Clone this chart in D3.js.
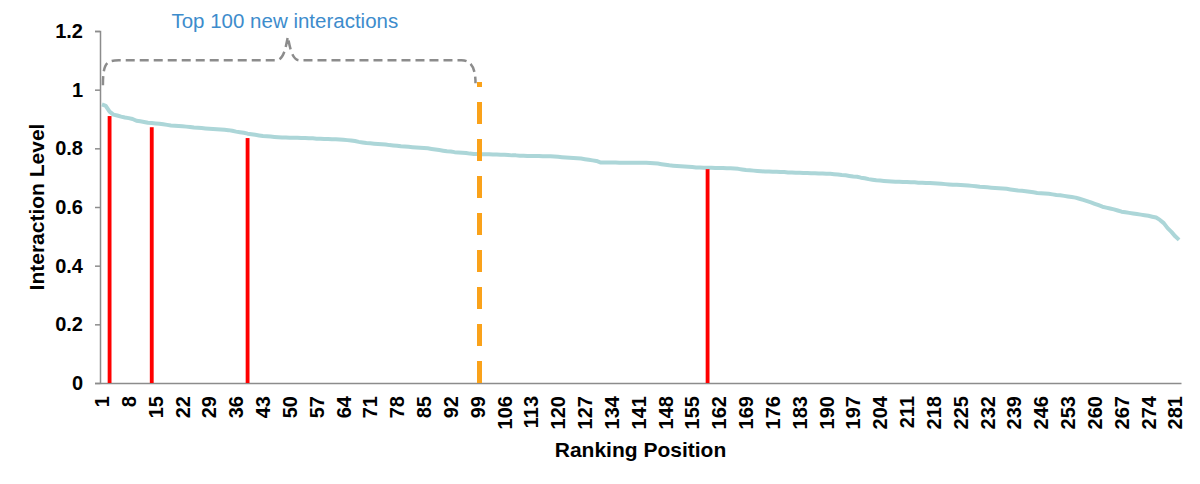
<!DOCTYPE html>
<html>
<head>
<meta charset="utf-8">
<script src="https://cdn.jsdelivr.net/npm/d3@7"></script>
<style>
  body { margin: 0; background: #fff; }
  text { font-family: "Liberation Sans", Arial, sans-serif; }
</style>
</head>
<body>
<div id="chart"></div>
<script>
// Interaction level for each ranking position 1..282
const levels = [
  0.950, 0.945, 0.925, 0.915, 0.912, 0.908, 0.905, 0.903, 0.900, 0.894,
  0.892, 0.890, 0.887, 0.886, 0.885, 0.884, 0.882, 0.880, 0.878, 0.877,
  0.876, 0.875, 0.874, 0.873, 0.871, 0.870, 0.869, 0.868, 0.867, 0.866,
  0.865, 0.864, 0.863, 0.862, 0.860, 0.857, 0.855, 0.853, 0.850, 0.848,
  0.846, 0.844, 0.842, 0.841, 0.840, 0.839, 0.838, 0.837, 0.837, 0.836,
  0.836, 0.836, 0.835, 0.835, 0.834, 0.834, 0.833, 0.833, 0.832, 0.832,
  0.831, 0.831, 0.830, 0.829, 0.828, 0.827, 0.825, 0.822, 0.820, 0.818,
  0.817, 0.816, 0.815, 0.814, 0.813, 0.811, 0.810, 0.809, 0.807, 0.806,
  0.805, 0.804, 0.803, 0.802, 0.801, 0.800, 0.798, 0.796, 0.794, 0.792,
  0.790, 0.789, 0.787, 0.786, 0.785, 0.784, 0.782, 0.781, 0.781, 0.780,
  0.780, 0.780, 0.779, 0.779, 0.778, 0.778, 0.777, 0.776, 0.776, 0.775,
  0.775, 0.774, 0.774, 0.774, 0.774, 0.773, 0.773, 0.773, 0.772, 0.771,
  0.770, 0.769, 0.768, 0.767, 0.766, 0.765, 0.763, 0.761, 0.759, 0.757,
  0.752, 0.752, 0.752, 0.752, 0.752, 0.751, 0.751, 0.751, 0.751, 0.751,
  0.751, 0.751, 0.751, 0.750, 0.749, 0.748, 0.746, 0.744, 0.742, 0.741,
  0.740, 0.739, 0.738, 0.737, 0.736, 0.735, 0.735, 0.734, 0.734, 0.734,
  0.733, 0.733, 0.733, 0.732, 0.732, 0.731, 0.730, 0.728, 0.726, 0.725,
  0.724, 0.723, 0.722, 0.721, 0.721, 0.720, 0.720, 0.719, 0.719, 0.718,
  0.718, 0.717, 0.717, 0.716, 0.716, 0.715, 0.715, 0.714, 0.714, 0.713,
  0.713, 0.712, 0.711, 0.709, 0.708, 0.706, 0.704, 0.703, 0.700, 0.698,
  0.695, 0.693, 0.691, 0.690, 0.689, 0.688, 0.687, 0.686, 0.686, 0.685,
  0.685, 0.684, 0.684, 0.683, 0.683, 0.682, 0.682, 0.681, 0.680, 0.679,
  0.678, 0.677, 0.676, 0.676, 0.675, 0.674, 0.673, 0.672, 0.671, 0.669,
  0.668, 0.667, 0.666, 0.665, 0.664, 0.663, 0.662, 0.660, 0.658, 0.656,
  0.655, 0.654, 0.652, 0.650, 0.648, 0.647, 0.646, 0.645, 0.643, 0.641,
  0.640, 0.638, 0.636, 0.634, 0.632, 0.628, 0.624, 0.620, 0.616, 0.611,
  0.606, 0.601, 0.598, 0.595, 0.592, 0.588, 0.584, 0.582, 0.580, 0.578,
  0.576, 0.574, 0.572, 0.570, 0.567, 0.564, 0.556, 0.545, 0.528, 0.515,
  0.500, 0.488
];
const positions = levels.map((d, i) => i + 1);

// highlighted positions (red bars)
const markPositions = [3, 14, 39, 159];
const markValues = [0.91, 0.872, 0.835, 0.729];

// top-100 cut-off (orange dashed line)
const cutPosition = 100;
const cutValue = 1.026;

const yTicks = [0, 0.2, 0.4, 0.6, 0.8, 1, 1.2];
const xTickEvery = 7;

const svgWidth = 1200;
const svgHeight = 484;
const margin = { top: 31, right: 19, bottom: 101, left: 100 };
const width = svgWidth - margin.left - margin.right;
const height = svgHeight - margin.top - margin.bottom;

const svg = d3.select("#chart").append("svg")
    .attr("width", svgWidth)
    .attr("height", svgHeight);

const g = svg.append("g")
    .attr("transform", `translate(${margin.left}, ${margin.top})`);

const x = d3.scaleBand()
    .domain(positions)
    .range([0, width])
    .padding(0);

const y = d3.scaleLinear()
    .domain([0, 1.2])
    .range([height, 0]);

const cx = d => x(d) + x.bandwidth() / 2;

// Y axis
const yAxis = g.append("g")
    .call(d3.axisLeft(y).tickValues(yTicks).tickFormat(d => String(d)).tickSize(5).tickPadding(12));
yAxis.select(".domain").attr("stroke", "#8c8c8c").attr("stroke-width", 1.5);
yAxis.selectAll(".tick line").attr("stroke", "#8c8c8c").attr("stroke-width", 1.5);
yAxis.selectAll(".tick text")
    .attr("font-size", 20).attr("font-weight", "bold").attr("fill", "#000")
    .style("font-family", "'Liberation Sans', Arial, sans-serif");

// X axis
const xAxis = g.append("g")
    .attr("transform", `translate(0, ${height})`)
    .call(d3.axisBottom(x)
        .tickValues(positions.filter(d => (d - 1) % xTickEvery === 0))
        .tickSize(0).tickSizeOuter(0));
xAxis.select(".domain").attr("stroke", "#8c8c8c").attr("stroke-width", 1.5);
xAxis.selectAll(".tick text")
    .attr("font-size", 20).attr("font-weight", "bold").attr("fill", "#000")
    .style("font-family", "'Liberation Sans', Arial, sans-serif")
    .attr("text-anchor", "end")
    .attr("transform", "rotate(-90)")
    .attr("x", -13)
    .attr("y", 0)
    .attr("dy", "0.36em");

// curve
const line = d3.line()
    .x((d, i) => cx(positions[i]))
    .y(d => y(d));

g.append("path")
    .datum(levels)
    .attr("fill", "none")
    .attr("stroke", "#acd6d8")
    .attr("stroke-width", 4)
    .attr("stroke-linejoin", "round")
    .attr("d", line);

// red bars
g.selectAll(".mark")
    .data(markPositions)
    .enter().append("rect")
    .attr("class", "mark")
    .attr("x", d => x(d))
    .attr("width", x.bandwidth())
    .attr("y", (d, i) => y(markValues[i]))
    .attr("height", (d, i) => height - y(markValues[i]))
    .attr("fill", "#ff0000");

// orange cut-off
g.append("line")
    .attr("x1", x(cutPosition)).attr("x2", x(cutPosition))
    .attr("y1", y(0)).attr("y2", y(cutValue))
    .attr("stroke", "#faa21a")
    .attr("stroke-width", 5)
    .attr("stroke-dasharray", "22,15");

// brace over top 100
const bx0 = cx(1) + 1;
const bx1 = x(cutPosition) - 6;
const bmid = x(50);
const by0 = y(1.015);
const by1 = y(1.1);
const bpeak = y(1.18);
const brace = d3.path();
brace.moveTo(bx0, by0);
brace.bezierCurveTo(bx0, by1 + 2, bx0 + 4, by1, bx0 + 16, by1);
brace.lineTo(bmid - 12, by1);
brace.bezierCurveTo(bmid - 4, by1, bmid - 2, bpeak + 10, bmid, bpeak);
brace.bezierCurveTo(bmid + 2, bpeak + 10, bmid + 4, by1, bmid + 12, by1);
brace.lineTo(bx1 - 12, by1);
brace.bezierCurveTo(bx1 - 2, by1, bx1 + 2, by1 + 8, bx1 + 2, y(1.022));

g.append("path")
    .attr("d", brace.toString())
    .attr("fill", "none")
    .attr("stroke", "#8c8c8c")
    .attr("stroke-width", 2.5)
    .attr("stroke-dasharray", "9,5");

g.append("text")
    .attr("x", bmid - 3)
    .attr("y", -3)
    .attr("text-anchor", "middle")
    .attr("font-size", 20.5)
    .attr("fill", "#3d8ccc")
    .text("Top 100 new interactions");

// axis titles
g.append("text")
    .attr("transform", "rotate(-90)")
    .attr("x", -(y(0.6)))
    .attr("y", -margin.left + 44)
    .attr("text-anchor", "middle")
    .attr("font-size", 21)
    .attr("font-weight", "bold")
    .text("Interaction Level");

g.append("text")
    .attr("x", width / 2)
    .attr("y", height + 74)
    .attr("text-anchor", "middle")
    .attr("font-size", 21)
    .attr("font-weight", "bold")
    .text("Ranking Position");
</script>
</body>
</html>
